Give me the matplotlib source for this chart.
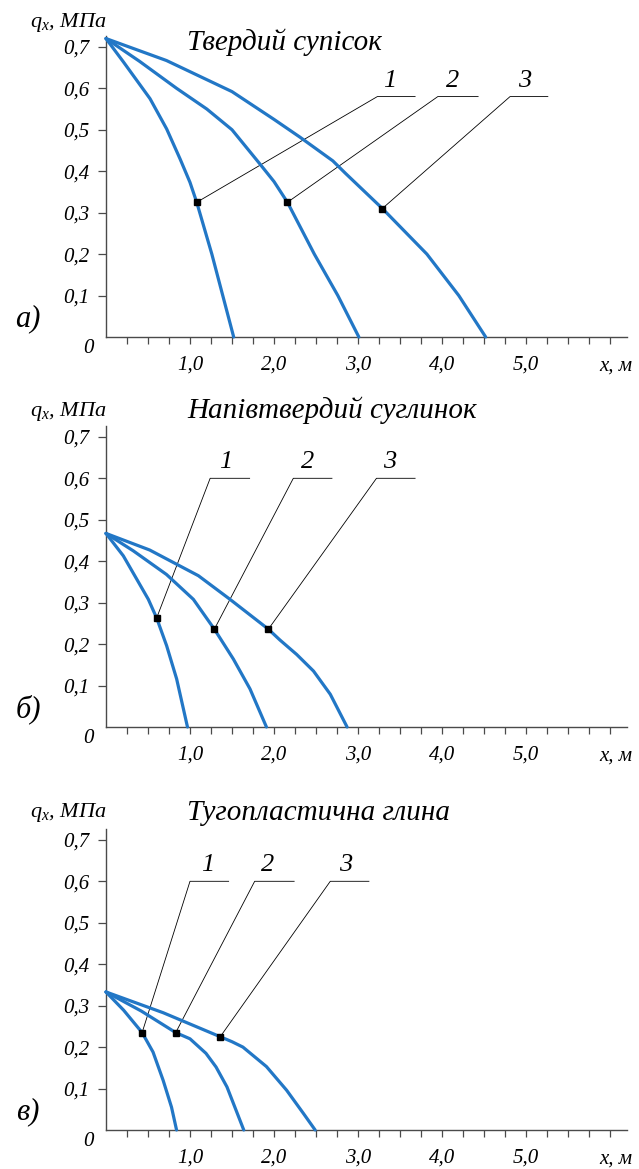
import matplotlib
matplotlib.use('Agg')

import numpy as np
import matplotlib.pyplot as plt

plt.rcParams['font.family'] = ['Liberation Serif', 'DejaVu Serif']
plt.rcParams['font.style'] = 'italic'
plt.rcParams['mathtext.fontset'] = 'custom'
plt.rcParams['mathtext.it'] = 'Liberation Serif:italic'
plt.rcParams['mathtext.rm'] = 'Liberation Serif:italic'

# axis ticks
x_major = [1, 2, 3, 4, 5]
x_major_labels = ['1,0', '2,0', '3,0', '4,0', '5,0']
y_ticks = [0.1, 0.2, 0.3, 0.4, 0.5, 0.6, 0.7]
y_tick_labels = ['0,1', '0,2', '0,3', '0,4', '0,5', '0,6', '0,7']

titles = ['Твердий супісок', 'Напівтвердий суглинок', 'Тугопластична глина']
letters = ['а)', 'б)', 'в)']
curve_names = ['1', '2', '3']

# panel a - Твердий супісок
a_x1 = [0, 0.206, 0.524, 0.722, 0.881, 1.0, 1.08, 1.26, 1.39, 1.52]
a_q1 = [0.72, 0.664, 0.575, 0.502, 0.43, 0.373, 0.325, 0.2, 0.1, 0]
a_x2 = [0, 0.4, 0.84, 1.2, 1.5, 1.83, 2.0, 2.16, 2.48, 2.76, 3.01]
a_q2 = [0.72, 0.665, 0.6, 0.55, 0.5, 0.418, 0.375, 0.325, 0.2, 0.1, 0]
a_x3 = [0, 0.72, 1.5, 2.0, 2.31, 2.7, 2.85, 3.29, 3.82, 4.2, 4.52]
a_q3 = [0.72, 0.667, 0.592, 0.525, 0.482, 0.425, 0.395, 0.31, 0.2, 0.1, 0]
a_mark_x = [1.08, 2.16, 3.29]
a_mark_q = [0.325, 0.325, 0.31]
a_lab_x = [3.38, 4.13, 4.99]
a_line_x0 = [3.23, 3.95, 4.81]
a_line_x1 = [3.68, 4.43, 5.26]
a_line_q = 0.58

# panel b - Напівтвердий суглинок
b_x1 = [0, 0.206, 0.365, 0.504, 0.603, 0.722, 0.841, 0.97]
b_q1 = [0.467, 0.413, 0.357, 0.308, 0.263, 0.196, 0.116, 0]
b_x2 = [0, 0.325, 0.72, 1.04, 1.29, 1.516, 1.714, 1.91]
b_q2 = [0.467, 0.425, 0.368, 0.308, 0.236, 0.164, 0.092, 0]
b_x3 = [0, 0.52, 1.1, 1.476, 1.933, 2.07, 2.27, 2.47, 2.67, 2.87]
b_q3 = [0.467, 0.427, 0.365, 0.308, 0.236, 0.21, 0.175, 0.135, 0.079, 0]
b_mark_x = [0.603, 1.29, 1.933]
b_mark_q = [0.263, 0.236, 0.236]
b_lab_x = [1.43, 2.4, 3.38]
b_line_x0 = [1.24, 2.23, 3.22]
b_line_x1 = [1.71, 2.69, 3.68]
b_line_q = 0.6

# panel c - Тугопластична глина
c_x1 = [0, 0.21, 0.43, 0.56, 0.68, 0.78, 0.84]
c_q1 = [0.333, 0.289, 0.235, 0.188, 0.12, 0.055, 0]
c_x2 = [0, 0.42, 0.83, 1.0, 1.19, 1.31, 1.44, 1.64]
c_q2 = [0.333, 0.287, 0.235, 0.22, 0.185, 0.152, 0.104, 0]
c_x3 = [0, 0.68, 1.36, 1.5, 1.63, 1.91, 2.15, 2.35, 2.49]
c_q3 = [0.333, 0.283, 0.225, 0.213, 0.2, 0.153, 0.096, 0.04, 0]
c_mark_x = [0.43, 0.83, 1.36]
c_mark_q = [0.235, 0.235, 0.225]
c_lab_x = [1.21, 1.92, 2.85]
c_line_x0 = [1.0, 1.77, 2.67]
c_line_x1 = [1.46, 2.24, 3.13]
c_line_q = 0.6

panels = [
    ([(a_x1, a_q1), (a_x2, a_q2), (a_x3, a_q3)], a_mark_x, a_mark_q, a_lab_x, a_line_x0, a_line_x1, a_line_q),
    ([(b_x1, b_q1), (b_x2, b_q2), (b_x3, b_q3)], b_mark_x, b_mark_q, b_lab_x, b_line_x0, b_line_x1, b_line_q),
    ([(c_x1, c_q1), (c_x2, c_q2), (c_x3, c_q3)], c_mark_x, c_mark_q, c_lab_x, c_line_x0, c_line_x1, c_line_q),
]

W, H = 639, 1169
fig = plt.figure(figsize=(W / 100, H / 100), dpi=100)

blue = '#2277c6'
axis_col = '#4a4a4a'
x_max, y_max = 6.2, 0.725
px_x, px_y = 84.0, 414.5          # pixels per data unit
left_px = 106
bottoms_px = [337, 727, 1130]
title_y_px = [42, 410, 813]
qlabel_y_px = [23, 412, 813]

minor_pos = np.arange(0.25, 6.01, 0.25)

for i, (curves, mx, mq, lx, l0, l1, lq) in enumerate(panels):
    b = bottoms_px[i]
    ax = fig.add_axes([left_px / W, (H - b) / H, x_max * px_x / W, y_max * px_y / H])
    for xs, qs in curves:
        ax.plot(xs, qs, color=blue, lw=2.3, solid_joinstyle='round',
                solid_capstyle='round', clip_on=False, zorder=3)
    for k in range(3):
        ax.plot([mx[k], l0[k], l1[k]], [mq[k], lq, lq], color='black', lw=0.6, zorder=2)
        ax.text(lx[k], lq + 0.012, curve_names[k], fontsize=19, ha='center', va='bottom')
    ax.plot(mx, mq, 's', color='black', ms=3.8, zorder=4)

    ax.set_xlim(0, x_max)
    ax.set_ylim(0, y_max)
    for s in ['top', 'right']:
        ax.spines[s].set_visible(False)
    for s in ['left', 'bottom']:
        ax.spines[s].set_color(axis_col)
        ax.spines[s].set_linewidth(1.0)

    xlabels = []
    for p in minor_pos:
        lab = ''
        for v, t in zip(x_major, x_major_labels):
            if abs(p - v) < 1e-6:
                lab = t
        xlabels.append(lab)
    ax.set_xticks(minor_pos)
    ax.set_xticklabels(xlabels, fontsize=15)
    ax.set_yticks(y_ticks)
    ax.set_yticklabels(y_tick_labels, fontsize=15)
    ax.tick_params(axis='x', direction='out', length=5, width=0.9, color=axis_col, pad=8)
    ax.tick_params(axis='y', direction='out', length=6, width=0.9, color=axis_col, pad=6)

    ax.annotate('0', (0, 0), xycoords='axes fraction', xytext=(-13, -8),
                textcoords='offset points', fontsize=15, ha='center', va='center')
    ax.annotate('x, м', (1, 0), xycoords='axes fraction', xytext=(-8, -21),
                textcoords='offset points', fontsize=15, ha='center', va='center')
    ax.annotate(letters[i], (0, 0), xycoords='axes fraction', xytext=(-56, 13),
                textcoords='offset points', fontsize=22, ha='center', va='center')

    fig.text(187 / W, 1 - title_y_px[i] / H, titles[i], fontsize=21, ha='left', va='center')
    fig.text(107 / W, 1 - qlabel_y_px[i] / H, '$q_x$, МПа', fontsize=16, ha='right', va='center')

fig.savefig('out.png', dpi=100)
